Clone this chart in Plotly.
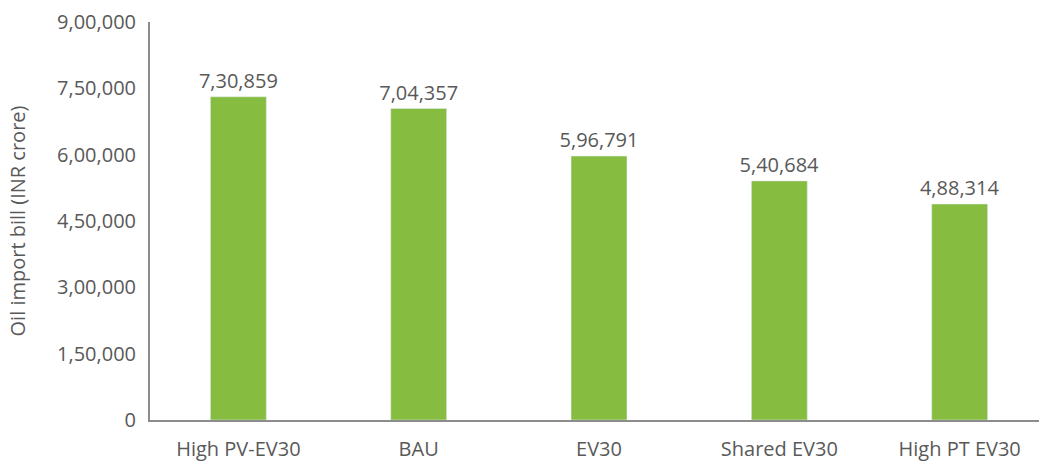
import plotly.graph_objects as go

categories = ["High PV-EV30", "BAU", "EV30", "Shared EV30", "High PT EV30"]
values = [730859, 704357, 596791, 540684, 488314]
tick_vals = [0, 150000, 300000, 450000, 600000, 750000, 900000]
tick_text = ["0", "1,50,000", "3,00,000", "4,50,000", "6,00,000", "7,50,000", "9,00,000"]


def indian(n):
    s = str(int(n))
    if len(s) <= 3:
        return s
    last3 = s[-3:]
    rest = s[:-3]
    parts = []
    while len(rest) > 2:
        parts.insert(0, rest[-2:])
        rest = rest[:-2]
    if rest:
        parts.insert(0, rest)
    return ",".join(parts) + "," + last3


labels = [indian(v) for v in values]
grey = "#595959"
font_family = "'Open Sans', 'Noto Sans', sans-serif"
fs = 20

fig = go.Figure(
    go.Bar(
        x=categories,
        y=values,
        text=labels,
        textposition="outside",
        constraintext="none",
        cliponaxis=False,
        marker_color="#86BC40",
        textfont=dict(size=fs, color=grey, family=font_family),
    )
)

fig.update_layout(
    width=1039,
    height=461,
    margin=dict(l=150, r=0, t=22, b=41),
    paper_bgcolor="white",
    plot_bgcolor="white",
    bargap=0.69,
    showlegend=False,
    font=dict(family=font_family, color=grey, size=fs),
)
fig.update_xaxes(
    range=[-0.49, 4.44],
    automargin=False,
    showline=True,
    linecolor="#8c8c8c",
    linewidth=2,
    showgrid=False,
    ticks="",
    ticklabelstandoff=10,
    tickfont=dict(size=fs, color=grey),
)
fig.update_yaxes(
    range=[0, 900000],
    automargin=False,
    tickvals=tick_vals,
    ticktext=tick_text,
    showline=True,
    linecolor="#8c8c8c",
    linewidth=2,
    showgrid=False,
    zeroline=False,
    ticks="",
    ticklabelstandoff=8,
    tickfont=dict(size=fs, color=grey),
    title=dict(text="Oil import bill (INR crore)", font=dict(size=fs, color=grey), standoff=26),
)

fig.write_html(
    "out.html",
    config={"displayModeBar": False},
    post_script="document.body.style.margin='0';document.body.style.padding='0';",
)
